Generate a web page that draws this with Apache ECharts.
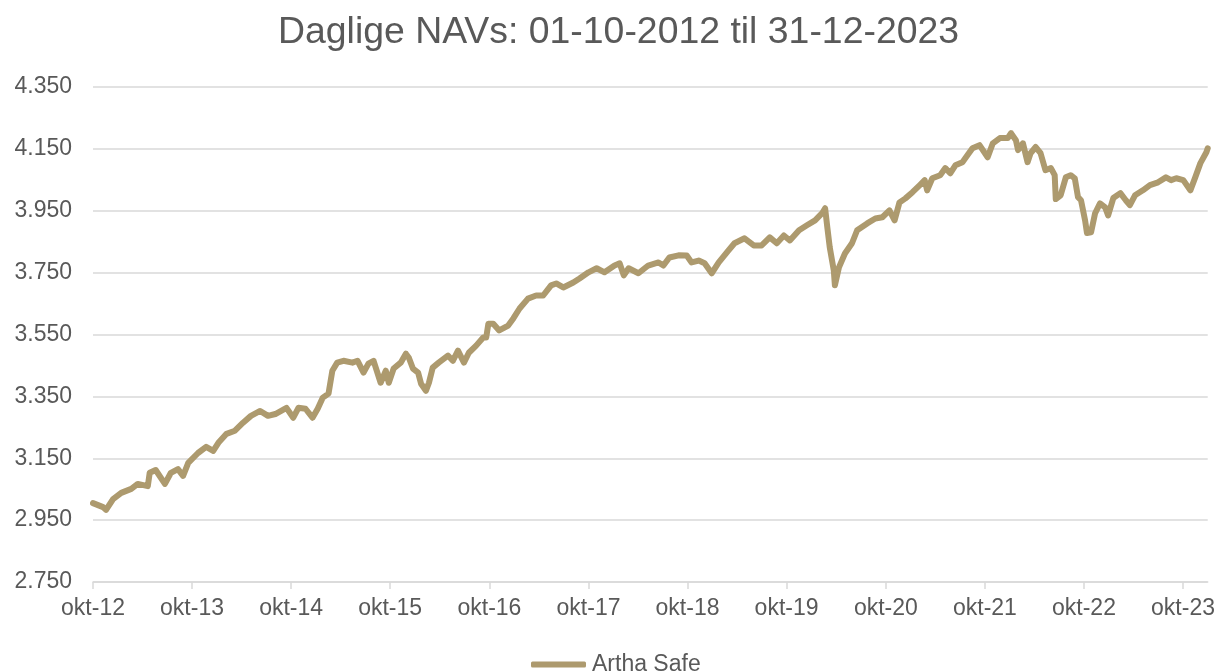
<!DOCTYPE html>
<html>
<head>
<meta charset="utf-8">
<script src="https://cdn.jsdelivr.net/npm/echarts@6/dist/echarts.min.js"></script>
<style>
  html, body { margin: 0; padding: 0; background: #fff; }
  #chart { width: 1218px; height: 671px; }
</style>
</head>
<body>
<div id="chart"></div>
<script>
// NAV readings (dates + values)
const dates = [
  '2012-10-01', '2012-11-07', '2012-11-18', '2012-12-14', '2013-01-13', '2013-02-19', '2013-03-15', '2013-04-21',
  '2013-04-28', '2013-05-20', '2013-06-23', '2013-07-15', '2013-08-10', '2013-08-29', '2013-09-17', '2013-10-23',
  '2013-11-22', '2013-12-18', '2014-01-06', '2014-02-05', '2014-03-08', '2014-04-07', '2014-05-06', '2014-06-09',
  '2014-07-08', '2014-08-04', '2014-09-14', '2014-10-09', '2014-10-28', '2014-11-23', '2014-12-19', '2015-01-07',
  '2015-01-26', '2015-02-16', '2015-03-02', '2015-03-20', '2015-04-12', '2015-05-15', '2015-06-03', '2015-06-25',
  '2015-07-13', '2015-08-01', '2015-08-27', '2015-09-15', '2015-09-26', '2015-10-14', '2015-11-09', '2015-11-28',
  '2015-12-09', '2015-12-24', '2016-01-12', '2016-01-23', '2016-02-10', '2016-02-21', '2016-03-06', '2016-03-28',
  '2016-05-01', '2016-05-19', '2016-06-07', '2016-06-29', '2016-07-17', '2016-08-13', '2016-09-08', '2016-09-19',
  '2016-09-27', '2016-10-15', '2016-11-06', '2016-12-09', '2016-12-28', '2017-01-20', '2017-02-20', '2017-03-22',
  '2017-04-17', '2017-05-16', '2017-06-04', '2017-06-30', '2017-08-06', '2017-08-29', '2017-10-01', '2017-10-31',
  '2017-11-29', '2018-01-05', '2018-01-24', '2018-02-08', '2018-02-26', '2018-04-03', '2018-05-09', '2018-06-16',
  '2018-07-04', '2018-07-26', '2018-08-29', '2018-09-28', '2018-10-16', '2018-11-11', '2018-12-03', '2018-12-29',
  '2019-01-24', '2019-03-01', '2019-03-23', '2019-04-29', '2019-06-02', '2019-07-01', '2019-07-31', '2019-08-26',
  '2019-09-21', '2019-10-13', '2019-11-16', '2019-12-15', '2020-01-14', '2020-02-09', '2020-02-20', '2020-02-28',
  '2020-03-08', '2020-03-23', '2020-03-27', '2020-04-11', '2020-05-03', '2020-05-29', '2020-06-17', '2020-07-24',
  '2020-08-23', '2020-09-18', '2020-10-14', '2020-11-02', '2020-11-20', '2020-12-12', '2021-01-07', '2021-02-03',
  '2021-02-21', '2021-03-02', '2021-03-21', '2021-04-19', '2021-05-08', '2021-05-26', '2021-06-14', '2021-07-10',
  '2021-07-29', '2021-08-16', '2021-09-11', '2021-10-11', '2021-10-30', '2021-11-25', '2021-12-24', '2022-01-05',
  '2022-01-23', '2022-01-31', '2022-02-18', '2022-03-07', '2022-03-18', '2022-04-06', '2022-04-24', '2022-05-12',
  '2022-06-01', '2022-06-15', '2022-06-19', '2022-07-07', '2022-07-26', '2022-08-13', '2022-08-28', '2022-09-09',
  '2022-09-20', '2022-10-05', '2022-10-12', '2022-10-27', '2022-11-11', '2022-11-29', '2022-12-18', '2022-12-29',
  '2023-01-17', '2023-02-12', '2023-03-04', '2023-03-19', '2023-04-07', '2023-05-06', '2023-06-01', '2023-07-01',
  '2023-07-30', '2023-08-18', '2023-09-06', '2023-10-02', '2023-10-28', '2023-11-15', '2023-12-04', '2023-12-26',
  '2023-12-31'
];
const navValues = [
  3005, 2992, 2983, 3018, 3038, 3051, 3067, 3060,
  3103, 3112, 3067, 3103, 3115, 3093, 3135, 3167,
  3187, 3174, 3200, 3229, 3239, 3265, 3287, 3303,
  3287, 3293, 3313, 3281, 3313, 3310, 3281, 3310,
  3346, 3359, 3433, 3459, 3465, 3459, 3465, 3427,
  3456, 3465, 3394, 3433, 3394, 3440, 3459, 3488,
  3475, 3440, 3427, 3391, 3368, 3394, 3443, 3459,
  3482, 3465, 3498, 3459, 3491, 3514, 3540, 3540,
  3585, 3585, 3563, 3579, 3602, 3634, 3666, 3676,
  3676, 3709, 3715, 3702, 3718, 3731, 3751, 3764,
  3751, 3773, 3780, 3741, 3764, 3748, 3773, 3783,
  3773, 3799, 3806, 3805, 3783, 3789, 3780, 3748,
  3783, 3822, 3845, 3861, 3838, 3838, 3864, 3845,
  3870, 3854, 3887, 3903, 3919, 3942, 3958, 3897,
  3832, 3757, 3709, 3767, 3812, 3845, 3887, 3909,
  3925, 3929, 3951, 3919, 3977, 3990, 4010, 4033,
  4049, 4016, 4055, 4065, 4088, 4071, 4097, 4107,
  4130, 4152, 4162, 4123, 4168, 4185, 4185, 4201,
  4178, 4146, 4168, 4107, 4136, 4156, 4136, 4081,
  4088, 4065, 3988, 4000, 4058, 4065, 4055, 3994,
  3984, 3919, 3878, 3880, 3942, 3974, 3961, 3935,
  3991, 4007, 3984, 3968, 4000, 4016, 4033, 4042,
  4058, 4049, 4055, 4049, 4016, 4058, 4104, 4139,
  4152
];
const tickYears = [2012, 2013, 2014, 2015, 2016, 2017, 2018, 2019, 2020, 2021, 2022, 2023];
const seriesName = 'Artha Safe';

const textColor = '#595959';
const lineColor = '#AD9A6E';
const font = 'Liberation Sans, Arial, sans-serif';

const toTime = s => Date.UTC(+s.slice(0, 4), +s.slice(5, 7) - 1, +s.slice(8, 10));
const tickValues = tickYears.map(y => Date.UTC(y, 9, 1));

const chart = echarts.init(document.getElementById('chart'));
chart.setOption({
  animation: false,
  backgroundColor: '#fff',
  textStyle: { fontFamily: font },
  title: {
    text: 'Daglige NAVs: 01-10-2012 til 31-12-2023',
    left: 273,
    top: 9,
    textStyle: { color: textColor, fontSize: 37.4, fontWeight: 'normal', fontFamily: font },
  },
  legend: {
    top: 648,
    left: 526,
    data: [seriesName],
    icon: 'roundRect',
    itemWidth: 55,
    itemHeight: 6,
    textStyle: { color: textColor, fontSize: 23, fontFamily: font, padding: [0, 0, 0, 1] },
  },
  grid: { left: 93, right: 10, top: 87, bottom: 89, containLabel: false },
  xAxis: {
    type: 'value',
    min: toTime('2012-10-01'),
    max: toTime('2023-12-31'),
    axisLine: { show: true, lineStyle: { color: '#d9d9d9', width: 1.5 } },
    axisTick: { show: true, length: 7, customValues: tickValues, lineStyle: { color: '#d9d9d9', width: 1.5 } },
    axisLabel: {
      customValues: tickValues,
      color: textColor,
      fontSize: 23,
      fontFamily: font,
      margin: 15,
      formatter: v => 'okt-' + String(new Date(v).getUTCFullYear()).slice(2),
    },
    splitLine: { show: false },
  },
  yAxis: {
    type: 'value',
    min: 2750,
    max: 4350,
    interval: 200,
    axisLine: { show: false },
    axisTick: { show: false },
    axisLabel: {
      color: textColor,
      fontSize: 23,
      fontFamily: font,
      margin: 21,
      formatter: v => String(v).replace(/\B(?=(\d{3})+(?!\d))/g, '.'),
    },
    splitLine: { lineStyle: { color: '#d9d9d9', width: 1.5 } },
  },
  series: [{
    name: seriesName,
    type: 'line',
    data: dates.map((d, i) => [toTime(d), navValues[i]]),
    showSymbol: false,
    lineStyle: { color: lineColor, width: 6, join: 'round', cap: 'round' },
    itemStyle: { color: lineColor },
  }],
});
</script>
</body>
</html>
